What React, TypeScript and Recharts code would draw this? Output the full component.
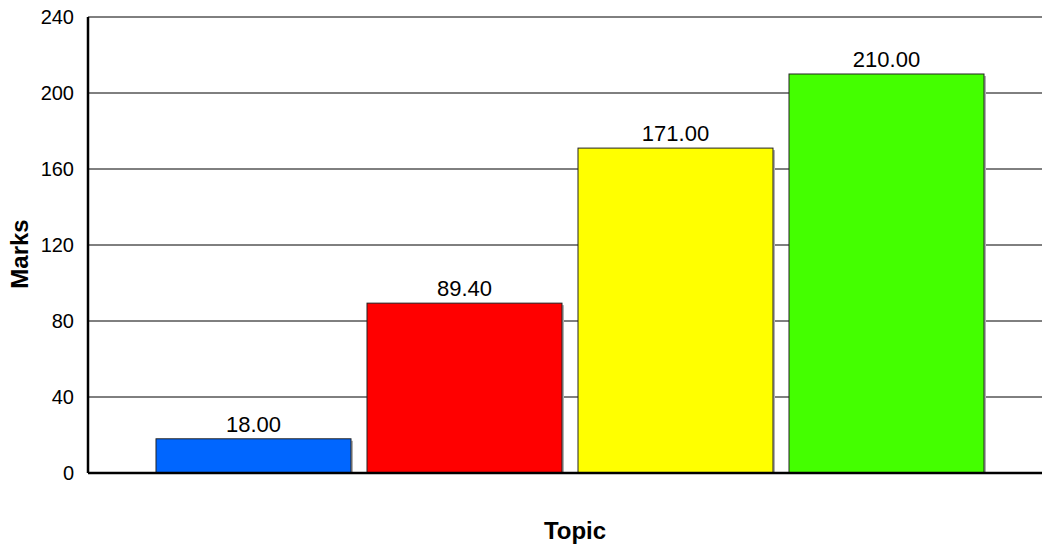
import { BarChart, Bar, XAxis, YAxis, CartesianGrid, LabelList } from "recharts";

const categories = [""];
const seriesKeys = ["a", "b", "c", "d"];
const seriesValues = [18.0, 89.4, 171.0, 210.0];
const seriesColors = ["#0066ff", "#ff0000", "#ffff00", "#44ff00"];
const yTicks = [0, 40, 80, 120, 160, 200, 240];
const xTitle = "Topic";
const yTitle = "Marks";

const data = categories.map((name) => {
  const row: Record<string, number | string> = { name };
  seriesKeys.forEach((k, i) => (row[k] = seriesValues[i]));
  return row;
});

const font = "'Liberation Sans', Arial, sans-serif";

function ShadowBar(props: any) {
  const { x, y, width, height, fill } = props;
  if (!height || height <= 0) return null;
  return (
    <g>
      <rect x={x + 2} y={y + 2} width={width} height={height - 2} fill="#b0b0b0" />
      <rect x={x} y={y} width={width} height={height} fill={fill} stroke="#222" strokeWidth={1} />
    </g>
  );
}

function YTitle(props: any) {
  const vb = props.viewBox || { x: 0, y: 17, height: 456 };
  const cy = vb.y + vb.height / 2 + 9;
  return (
    <text
      x={28}
      y={cy}
      transform={`rotate(-90, 28, ${cy})`}
      textAnchor="middle"
      fill="#000"
      fontSize={24}
      fontWeight="bold"
      fontFamily={font}
    >
      {yTitle}
    </text>
  );
}

export default function App() {
  return (
    <div style={{ width: 1042, height: 548, fontFamily: font, background: "#fff" }}>
      <style>{`body{margin:0}`}</style>
      <BarChart
        width={1042}
        height={548}
        data={data}
        margin={{ top: 17, right: 0, left: 0, bottom: 0 }}
        barSize={195}
        barGap={16}
      >
        <CartesianGrid vertical={false} stroke="#000" strokeWidth={1} />
        <XAxis
          dataKey="name"
          tick={false}
          tickLine={false}
          axisLine={{ stroke: "#000", strokeWidth: 2.5 }}
          height={75}
          padding={{ left: 9, right: 0 }}
          label={{ value: xTitle, position: "insideBottom", offset: 9, fill: "#000", fontSize: 24, fontWeight: "bold", fontFamily: font, dx: 10 }}
        />
        <YAxis
          domain={[0, 240]}
          ticks={yTicks}
          interval={0}
          width={88}
          tickLine={false}
          tickMargin={8}
          axisLine={{ stroke: "#000", strokeWidth: 2.5 }}
          tick={{ fill: "#000", fontSize: 20, fontFamily: font }}
          label={<YTitle />}
        />
        {seriesKeys.map((k, i) => (
          <Bar key={k} dataKey={k} fill={seriesColors[i]} shape={<ShadowBar />} isAnimationActive={false}>
            <LabelList
              dataKey={k}
              position="top"
              offset={7}
              formatter={(v: unknown) => Number(v).toFixed(2)}
              style={{ fill: "#000", fontSize: 22, fontFamily: font }}
            />
          </Bar>
        ))}
      </BarChart>
    </div>
  );
}
